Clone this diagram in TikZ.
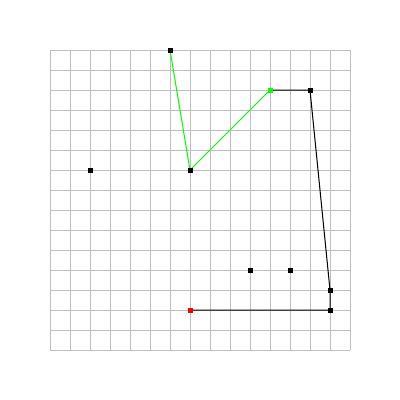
\documentclass[tikz,border=0pt]{standalone}
\usetikzlibrary{backgrounds}
\begin{document}
\begin{tikzpicture}[x=1pt,y=-1pt,
  gridline/.style={draw={rgb,255:red,190;green,190;blue,190},line width=0.8pt},
  pt/.style={rectangle,fill=black,inner sep=0pt,minimum size=5pt},
  gpt/.style={pt,fill={rgb,255:red,0;green,255;blue,0}},
  rpt/.style={pt,fill=red},
  gline/.style={draw={rgb,255:red,0;green,255;blue,0},line width=1pt},
  bline/.style={draw=black,line width=1pt}]
\node[pt] (a) at (170,50) {};
\node[pt] (b) at (190,170) {};
\node[gpt] (c) at (270,90) {};
\node[pt] (d) at (310,90) {};
\node[pt] (e) at (330,290) {};
\node[pt] (f) at (330,310) {};
\node[rpt] (g) at (190,310) {};
\node[pt] (h) at (250,270) {};
\node[pt] (i) at (290,270) {};
\node[pt] (j) at (90,170) {};
\begin{scope}[on background layer]
\useasboundingbox[fill=white] (0,0) rectangle (400,400);
\foreach \k in {0,...,15}{
  \draw[gridline] (50+20*\k,50) -- (50+20*\k,350);
  \draw[gridline] (50,50+20*\k) -- (350,50+20*\k);
}
\draw[gline] (a.center) -- (b.center) -- (c.center);
\draw[bline] (c.center) -- (d.center) -- (e.center) -- (f.center) -- (g.center);
\end{scope}
\end{tikzpicture}
\end{document}
